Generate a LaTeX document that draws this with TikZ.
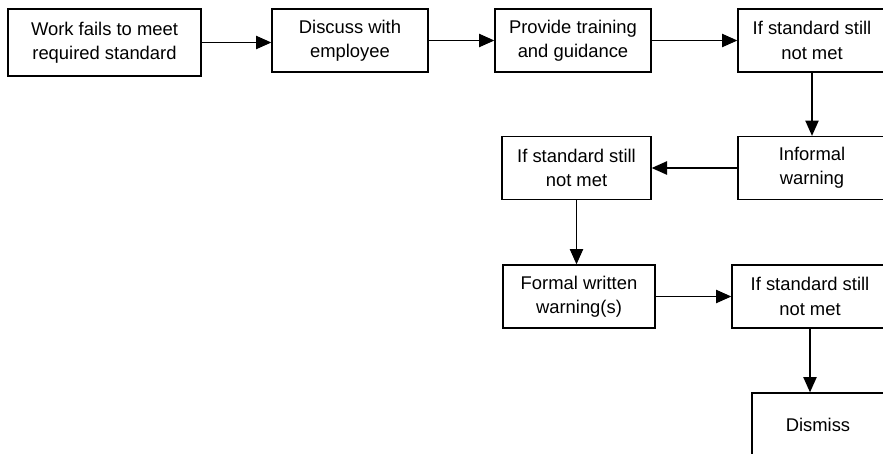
\documentclass[tikz,border=0pt]{standalone}
\usepackage{fontspec}
\setmainfont{Liberation Sans}
\usetikzlibrary{positioning, arrows.meta, calc}
\definecolor{LineColor}{RGB}{0,0,0}
\tikzset{
  stage/.style={draw=LineColor, line width=1pt, rectangle, inner sep=0pt, align=center,
    font=\fontsize{13.8pt}{18.3pt}\selectfont, minimum height=47.25pt, minimum width=117pt},
  flow/.style={line width=1pt, LineColor, -{Triangle[length=11.5pt, width=10pt]}}
}

\begin{document}
\begin{tikzpicture}[x=0.75pt, y=-0.75pt]
    % Canvas (pixel units, y pointing down)
    \useasboundingbox (0,0) rectangle (883,454);
    \fill[white] (0,0) rectangle (883,454);
    \clip (0,0) rectangle (883,454);

    % Top row
    \node[stage, minimum width=144.75pt, minimum height=50.25pt] (fails) at (104.5,42.5) {Work fails to meet\\required standard};
    \node[stage] (discuss) at (350,40.5) {Discuss with\\employee};
    \node[stage] (training) at (573,40.5) {Provide training\\and guidance};
    \node[stage, minimum width=111pt] (check1) at (812,40.5) {If standard still\\not met};

    % Middle row
    \node[stage, minimum width=111pt] (informal) at (812,168) {Informal\\warning};
    \node[stage, minimum width=111.75pt] (check2) at (576.5,168) {If standard still\\not met};

    % Lower rows
    \node[stage, minimum width=114pt] (formal) at (579,296.5) {Formal written\\warning(s)};
    \node[stage] (check3) at (810,296.5) {If standard still\\not met};
    \node[stage, minimum width=99pt] (dismiss) at (818,424.5) {Dismiss};

    % Connectors
    \draw[flow] (fails.east) -- (fails.east -| discuss.west);
    \draw[flow] (discuss) -- (training);
    \draw[flow] (training) -- (check1);
    \draw[flow] (check1) -- (informal);
    \draw[flow] (informal) -- (check2);
    \draw[flow] (check2.south) -- (check2.south |- formal.north);
    \draw[flow] (formal) -- (check3);
    \draw[flow] (check3.south) -- (check3.south |- dismiss.north);
\end{tikzpicture}
\end{document}
